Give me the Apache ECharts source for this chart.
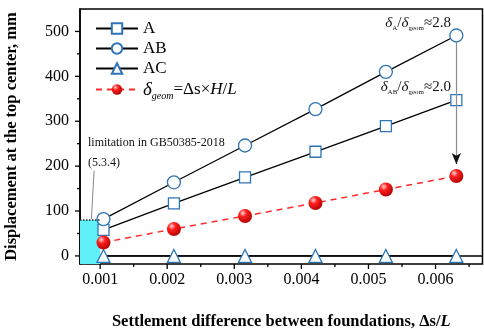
<!DOCTYPE html>
<html>
<head>
<meta charset="utf-8">
<script src="https://cdn.jsdelivr.net/npm/echarts@6/dist/echarts.min.js"></script>
<style>
  html, body { margin: 0; padding: 0; background: #fff; }
  #chart { width: 484px; height: 329px; }
</style>
</head>
<body>
<div id="chart"></div>
<script>
// settlement difference ds/L at each case
const ratios = [0.00105, 0.0021, 0.00316, 0.00421, 0.00526, 0.00631];
const dispA = [58, 117, 175, 232, 289, 347];
const dispAB = [82, 164, 246, 327, 410, 491];
const dispAC = [0, 0, 0, 0, 0, 0];
const dispGeom = [30, 60, 89, 118, 148, 178];

const xTicks = [0.001, 0.002, 0.003, 0.004, 0.005, 0.006];
const xMinorTicks = [0.0015, 0.0025, 0.0035, 0.0045, 0.0055, 0.0065];
const yTicks = [0, 100, 200, 300, 400, 500];
const yMinorTicks = [50, 150, 250, 350, 450];

// code limit box (GB50385-2018, 5.3.4)
const limitRatio = 0.001;
const limitDisp = 80;

const X_MIN = 0.0007, X_MAX = 0.0067;
const Y_MIN = -18, Y_MAX = 550;

const FONT = 'Liberation Serif';
const BLUE = '#2e75b6';

const chart = echarts.init(document.getElementById('chart'));

const pair = (xs, ys) => xs.map((x, i) => [x, ys[i]]);

const ball = new echarts.graphic.RadialGradient(0.35, 0.3, 0.75, [
  { offset: 0, color: '#ffd6d6' },
  { offset: 0.35, color: '#ff2020' },
  { offset: 1, color: '#b00000' }
]);

const hollow = { color: '#fff', borderColor: BLUE, borderWidth: 1.3 };

const subRich = {
  d: { fontFamily: FONT, fontSize: 15, fontStyle: 'italic', fill: '#111' },
  s: { fontFamily: FONT, fontSize: 7, fill: '#111', padding: [9, 0, 0, 0] },
  n: { fontFamily: FONT, fontSize: 15, fill: '#111' }
};

const notes = [
  { type: 'text', left: 88, top: 137,
    style: { text: 'limitation in GB50385-2018', font: '12px ' + FONT, fill: '#111' } },
  { type: 'text', left: 88, top: 157,
    style: { text: '(5.3.4)', font: '12px ' + FONT, fill: '#111' } },
  { type: 'text', right: 33, top: 16,
    style: { text: '{d|δ}{s|A}{n|/}{d|δ}{s|geom}{n|≈2.8}', rich: subRich } },
  { type: 'text', right: 33, top: 80,
    style: { text: '{d|δ}{s|AB}{n|/}{d|δ}{s|geom}{n|≈2.0}', rich: subRich } }
];

const option = {
  animation: false,
  backgroundColor: '#fff',
  textStyle: { fontFamily: FONT },
  grid: { left: 80, right: 1.5, top: 9, bottom: 65, outerBoundsMode: 'none', containLabel: false,
    show: true, borderColor: '#000', borderWidth: 1.5 },
  xAxis: {
    type: 'value', min: X_MIN, max: X_MAX,
    axisLine: { show: true, lineStyle: { color: '#000', width: 1.5 } },
    axisTick: { show: false },
    axisLabel: { show: false },
    splitLine: { show: false },
    name: '{b|Settlement difference between foundations, Δs/}{bi|L}',
    nameLocation: 'middle', nameGap: 49,
    nameTextStyle: {
      rich: {
        b: { fontFamily: FONT, fontSize: 16.5, fontWeight: 'bold', color: '#000' },
        bi: { fontFamily: FONT, fontSize: 16.5, fontWeight: 'bold', fontStyle: 'italic', color: '#000' }
      }
    }
  },
  yAxis: {
    type: 'value', min: Y_MIN, max: Y_MAX,
    axisLine: { show: true, lineStyle: { color: '#000', width: 1.5 } },
    axisTick: { show: false },
    axisLabel: { show: false },
    splitLine: { show: false },
    name: 'Displacement at the top center, mm',
    nameLocation: 'middle', nameGap: 60,
    nameTextStyle: { fontFamily: FONT, fontSize: 16.5, fontWeight: 'bold', color: '#000' }
  },
  legend: {
    orient: 'vertical', left: 90, top: 15, itemGap: 3,
    itemWidth: 42, itemHeight: 13,
    textStyle: { fontFamily: FONT, fontSize: 17, color: '#000',
      rich: {
        d: { fontFamily: FONT, fontSize: 19, fontStyle: 'italic', color: '#000' },
        s: { fontFamily: FONT, fontSize: 10, fontStyle: 'italic', color: '#000', padding: [14, 0, 0, 0] },
        n: { fontFamily: FONT, fontSize: 17, color: '#000' },
        i: { fontFamily: FONT, fontSize: 17, fontStyle: 'italic', color: '#000' }
      }
    },
    formatter: name => name === 'geom'
      ? '{d|δ}{s|geom}{n|=Δs×}{i|H}{n|/}{i|L}'
      : name,
    data: ['A', 'AB', 'AC', 'geom']
  },
  graphic: notes,
  series: [
    {
      name: 'AC', type: 'line', data: pair(ratios, dispAC), z: 3,
      symbol: 'triangle', symbolSize: 13, itemStyle: hollow,
      lineStyle: { color: '#000', width: 1.3 },
      markArea: {
        silent: true,
        itemStyle: { color: '#5ff0f8' },
        data: [[{ coord: [X_MIN, Y_MIN] }, { coord: [limitRatio, limitDisp] }]]
      },
      markLine: {
        silent: true, symbol: ['none', 'none'], label: { show: false },
        data: [
          [{ coord: [X_MIN, limitDisp], lineStyle: { color: '#222', type: 'dotted', width: 1.5 } },
           { coord: [limitRatio, limitDisp] }],
          [{ coord: [0.00091, 190], lineStyle: { color: '#888', type: 'solid', width: 1 } },
           { coord: [0.00087, 82] }]
        ]
      }
    },
    {
      name: 'A', type: 'line', data: pair(ratios, dispA), z: 4,
      symbol: 'rect', symbolSize: 11, itemStyle: hollow,
      lineStyle: { color: '#000', width: 1.3 }
    },
    {
      name: 'AB', type: 'line', data: pair(ratios, dispAB), z: 4,
      symbol: 'circle', symbolSize: 13, itemStyle: hollow,
      lineStyle: { color: '#000', width: 1.3 },
      markLine: {
        silent: true, label: { show: false },
        data: [
          [{ coord: [ratios[5], 477], symbol: 'none', lineStyle: { color: '#8c8c8c', type: 'solid', width: 1.2 } },
           { coord: [ratios[5], 210], symbol: 'none' }],
          [{ coord: [ratios[5], 216], symbol: 'none', lineStyle: { color: '#111', type: 'solid', width: 1.2 } },
           { coord: [ratios[5], 205], symbol: 'arrow', symbolSize: [7, 11] }]
        ]
      }
    },
    {
      name: 'geom', type: 'line', data: pair(ratios, dispGeom), z: 5,
      symbol: 'circle', symbolSize: 14,
      itemStyle: { color: ball, borderWidth: 0 },
      lineStyle: { color: '#ff2a2a', width: 1.5, type: [6, 5] }
    }
  ]
};

chart.setOption(option);

// axis ticks and labels, placed through the axis scales
const px = (x, y) => chart.convertToPixel({ gridIndex: 0 }, [x, y]);
const tickStyle = { stroke: '#000', lineWidth: 1.3 };
const axisBits = [];

xTicks.concat(xMinorTicks).forEach(v => {
  const [x, y] = px(v, Y_MIN);
  const len = xTicks.includes(v) ? 5 : 3;
  axisBits.push({ type: 'line', silent: true, shape: { x1: x, y1: y, x2: x, y2: y + len }, style: tickStyle });
});
xTicks.forEach(v => {
  const [x, y] = px(v, Y_MIN);
  axisBits.push({ type: 'text', silent: true, x: x, y: y + 16,
    style: { text: v.toFixed(3), font: '16px ' + FONT, fill: '#000', align: 'center', verticalAlign: 'middle' } });
});
yTicks.concat(yMinorTicks).forEach(v => {
  const [x, y] = px(X_MIN, v);
  const len = yTicks.includes(v) ? 5 : 3;
  axisBits.push({ type: 'line', silent: true, shape: { x1: x - len, y1: y, x2: x, y2: y }, style: tickStyle });
});
yTicks.forEach(v => {
  const [x, y] = px(X_MIN, v);
  axisBits.push({ type: 'text', silent: true, x: x - 11, y: y,
    style: { text: String(v), font: '16px ' + FONT, fill: '#000', align: 'right', verticalAlign: 'middle' } });
});

chart.setOption({ graphic: notes.concat(axisBits) });
</script>
</body>
</html>
